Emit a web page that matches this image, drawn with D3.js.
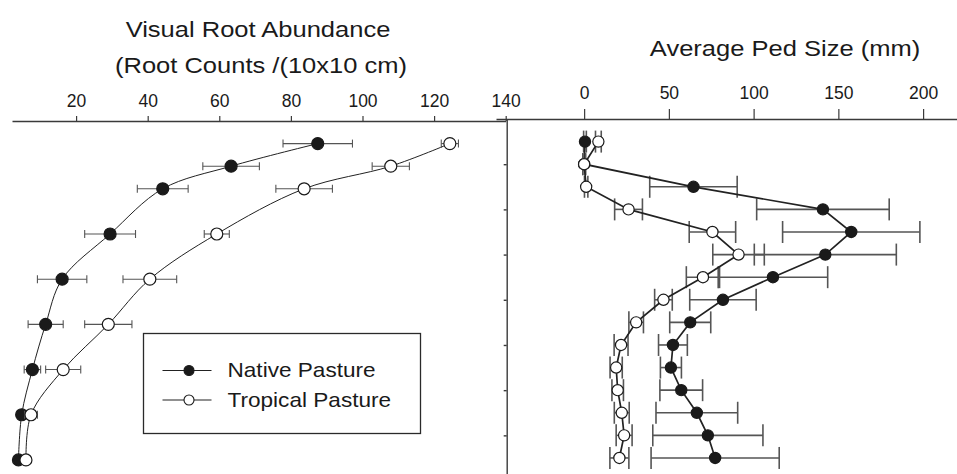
<!DOCTYPE html>
<html>
<head>
<meta charset="utf-8">
<script src="https://cdn.jsdelivr.net/npm/d3@7"></script>
<style>
  html, body { margin: 0; padding: 0; background: #fff; }
  svg { display: block; font-family: "Liberation Sans", Arial, sans-serif; }
</style>
</head>
<body>
<div id="chart"></div>
<script>
// Root abundance vs depth (left) and average ped size vs depth (right)
const width = 957, height = 474;

// --- data ---
const rootDepth = [10, 20, 30, 50, 70, 90, 110, 130, 150];
const rootNative = [87.5, 63.3, 44.2, 29.5, 16.1, 11.5, 7.8, 4.8, 3.9];
const rootNativeErr = [9.7, 7.9, 7.1, 7.1, 6.9, 4.9, 2.3, 1.0, 0.5];
const rootTropical = [124.4, 107.9, 83.7, 59.3, 40.6, 29.0, 16.4, 7.4, 6.0];
const rootTropicalErr = [2.4, 5.2, 7.9, 3.5, 7.5, 6.6, 4.9, 1.8, 1.0];

const pedDepth = [10, 20, 30, 40, 50, 60, 70, 80, 90, 100, 110, 120, 130, 140, 150];
const pedNative = [0.5, 0, 64.5, 140.9, 157.6, 142.3, 111.4, 81.9, 62.6, 52.4, 51.2, 57.3, 66.5, 73.0, 77.3];
const pedNativeErr = [0.8, 0.8, 25.8, 39.1, 40.5, 41.9, 32.3, 19.6, 12.1, 8.5, 6.2, 12.6, 24.1, 32.5, 37.8];
const pedTropical = [8.4, 0, 1.2, 26.2, 75.7, 91.1, 70.1, 46.8, 30.7, 21.8, 18.9, 19.8, 22.2, 23.6, 20.8];
const pedTropicalErr = [1.7, 0.8, 1.0, 8.2, 13.7, 15.2, 9.8, 5.2, 4.3, 4.1, 3.6, 3.4, 4.4, 4.7, 5.6];

const rootTicks = [20, 40, 60, 80, 100, 120, 140];
const pedTicks = [0, 50, 100, 150, 200];
const depthTicks = [20, 40, 60, 80, 100, 120, 140];
const seriesNames = ["Native Pasture", "Tropical Pasture"];

const svg = d3.select("#chart").append("svg").attr("width", width).attr("height", height);

// scales
const xL = d3.scaleLinear().domain([2.1, 140]).range([12, 505.7]);
const yL = d3.scaleLinear().domain([0, 157.1]).range([121, 476]);
const xR = d3.scaleLinear().domain([-52, 220]).range([496, 957]);
const yR = d3.scaleLinear().domain([0, 157.1]).range([119, 474]);

const axisCol = "#3a3a3a", lineCol = "#222", barCol = "#555";

// stretched text helper (the source figure is a bit wide)
function label(x, y, str, size, sx) {
  svg.append("text")
    .attr("transform", `translate(${x},${y}) scale(${sx},1)`)
    .attr("text-anchor", "middle")
    .attr("font-size", size)
    .attr("fill", "#1a1a1a")
    .text(str);
}

label(258, 36.5, "Visual Root Abundance", 22, 1.16);
label(261, 73, "(Root Counts /(10x10 cm)", 22, 1.16);
label(785, 56, "Average Ped Size (mm)", 22, 1.16);

// --- axes ---
function styleAxis(g) {
  g.select(".domain").attr("stroke", axisCol).attr("stroke-width", 1.4);
  g.selectAll(".tick line").attr("stroke", axisCol).attr("stroke-width", 1.2);
  g.selectAll(".tick text")
    .attr("font-size", 17.5).attr("fill", "#1a1a1a")
    .attr("font-family", "Liberation Sans, Arial, sans-serif");
}

svg.append("g").attr("transform", `translate(0,${yL(0)})`)
  .call(d3.axisTop(xL).tickValues(rootTicks).tickSize(5).tickSizeOuter(0).tickPadding(9.5))
  .call(styleAxis);

svg.append("g").attr("transform", `translate(0,${yR(0)})`)
  .call(d3.axisTop(xR).tickValues(pedTicks).tickSize(10).tickSizeOuter(0).tickPadding(10.5))
  .call(styleAxis);

svg.append("g").attr("transform", `translate(${xL(140) + 1},0)`)
  .call(d3.axisLeft(yR).tickValues(depthTicks).tickSize(3).tickSizeOuter(0).tickFormat(""))
  .call(g => {
    g.select(".domain").attr("stroke", axisCol).attr("stroke-width", 1.4);
    g.selectAll(".tick line").attr("stroke", axisCol).attr("stroke-width", 1.4);
  });

// --- series drawing ---
function drawSeries(x, y, depth, vals, errs, opt) {
  const g = svg.append("g");
  const pts = depth.map((d, i) => ({d, v: vals[i], e: errs[i]}));

  // error bars
  const eb = g.append("g").attr("stroke", barCol).attr("stroke-width", opt.barW).attr("fill", "none");
  eb.selectAll("line.h").data(pts).join("line").attr("class", "h")
    .attr("x1", p => x(p.v - p.e)).attr("x2", p => x(p.v + p.e))
    .attr("y1", p => y(p.d)).attr("y2", p => y(p.d));
  eb.selectAll("line.l").data(pts).join("line").attr("class", "l")
    .attr("x1", p => x(p.v - p.e)).attr("x2", p => x(p.v - p.e))
    .attr("y1", p => y(p.d) - opt.cap).attr("y2", p => y(p.d) + opt.cap);
  eb.selectAll("line.r").data(pts).join("line").attr("class", "r")
    .attr("x1", p => x(p.v + p.e)).attr("x2", p => x(p.v + p.e))
    .attr("y1", p => y(p.d) - opt.cap).attr("y2", p => y(p.d) + opt.cap);

  const line = d3.line().x(p => x(p.v)).y(p => y(p.d)).curve(opt.curve);
  g.append("path").datum(pts).attr("d", line)
    .attr("fill", "none").attr("stroke", lineCol).attr("stroke-width", opt.lineW);

  g.selectAll("circle").data(pts).join("circle")
    .attr("cx", p => x(p.v)).attr("cy", p => y(p.d)).attr("r", opt.r)
    .attr("fill", opt.fill).attr("stroke", "#1a1a1a").attr("stroke-width", 1.2);
}

const leftOpt = {curve: d3.curveCatmullRom.alpha(0.5), lineW: 1, barW: 1.1, cap: 4, r: 6};
const rightOpt = {curve: d3.curveLinear, lineW: 1.7, barW: 1.6, cap: 11, r: 5.6};

drawSeries(xL, yL, rootDepth, rootNative, rootNativeErr, {...leftOpt, fill: "#1a1a1a"});
drawSeries(xL, yL, rootDepth, rootTropical, rootTropicalErr, {...leftOpt, fill: "#fff"});
drawSeries(xR, yR, pedDepth, pedNative, pedNativeErr, {...rightOpt, fill: "#1a1a1a"});
drawSeries(xR, yR, pedDepth, pedTropical, pedTropicalErr, {...rightOpt, fill: "#fff"});

// --- legend ---
const lg = svg.append("g").attr("transform", "translate(143.5,333.5)");
lg.append("rect").attr("width", 277).attr("height", 100)
  .attr("fill", "#fff").attr("stroke", "#2a2a2a").attr("stroke-width", 1.3);
const fills = ["#1a1a1a", "#fff"];
seriesNames.forEach((name, i) => {
  const yy = 37 + i * 29.5;
  lg.append("line").attr("x1", 19).attr("x2", 68).attr("y1", yy).attr("y2", yy)
    .attr("stroke", lineCol).attr("stroke-width", 1.2);
  lg.append("circle").attr("cx", 45.5).attr("cy", yy).attr("r", 5)
    .attr("fill", fills[i]).attr("stroke", "#1a1a1a").attr("stroke-width", 1.1);
  lg.append("text")
    .attr("transform", `translate(84,${yy + 6.5}) scale(1.13,1)`)
    .attr("font-size", 20).attr("fill", "#1a1a1a").text(name);
});
</script>
</body>
</html>
